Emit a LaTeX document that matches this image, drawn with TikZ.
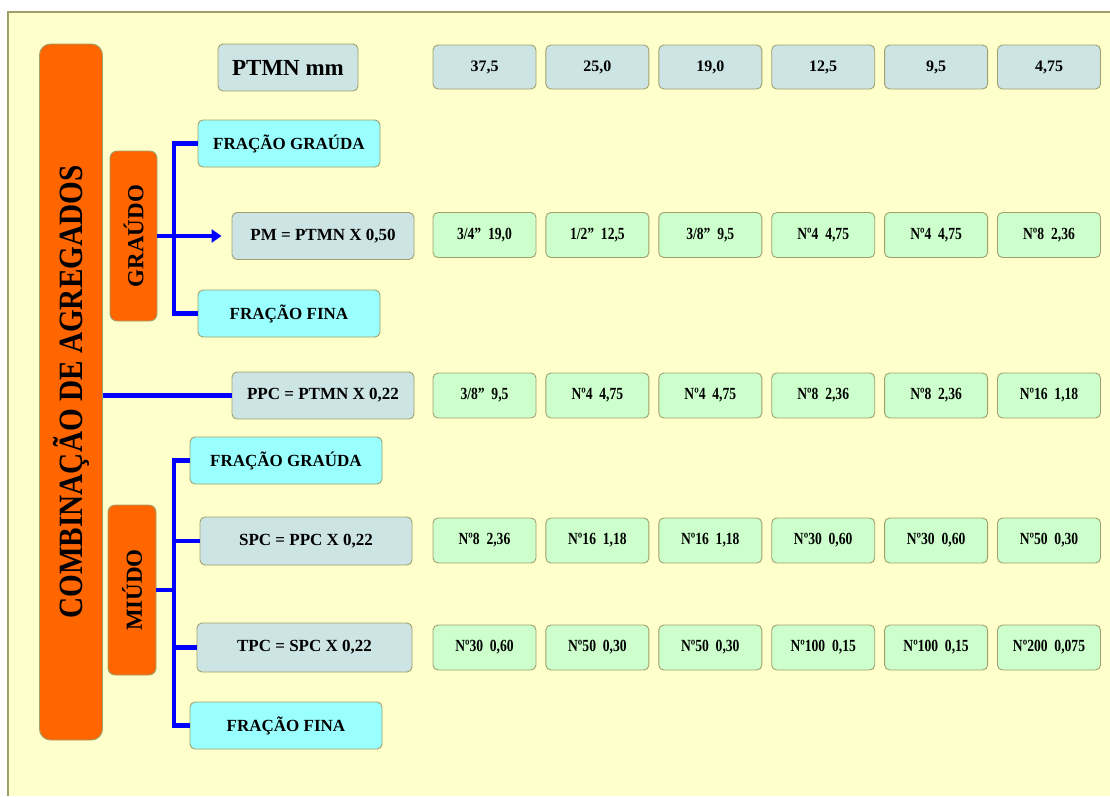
\documentclass[tikz,border=0pt]{standalone}
\usepackage{fontspec}
\setmainfont{Liberation Serif}
\newfontfamily\narrowfont{Liberation Serif}[FakeStretch=0.86]
\newfontfamily\sievefont{Liberation Serif}[FakeStretch=0.8]
\usetikzlibrary{arrows.meta, positioning, calc}

\definecolor{paper}{RGB}{255,255,204}
\definecolor{frameLine}{RGB}{160,160,110}
\definecolor{orangeFill}{RGB}{255,102,0}
\definecolor{grayCyan}{RGB}{204,228,228}
\definecolor{lightCyan}{RGB}{153,255,255}
\definecolor{lightGreen}{RGB}{204,255,204}
\definecolor{busBlue}{RGB}{0,0,255}

\begin{document}
\begin{tikzpicture}[
        x=1pt, y=-1pt,
        node distance=9pt,
        baseBox/.style={
            rectangle, rounded corners=5pt, draw=frameLine, line width=0.9pt,
            inner sep=0pt, align=center
        },
        groupBox/.style={
            baseBox, fill=orangeFill, rotate=90, rounded corners=7pt,
            font=\fontsize{23}{25}\selectfont\bfseries
        },
        formulaBox/.style={
            baseBox, fill=grayCyan, minimum height=47pt,
            font=\fontsize{17}{20}\selectfont\bfseries
        },
        fracBox/.style={
            baseBox, fill=lightCyan, minimum height=47pt,
            font=\fontsize{17}{20}\selectfont\bfseries
        },
        sizeBox/.style={
            baseBox, fill=grayCyan, minimum width=103pt, minimum height=44pt,
            font=\fontsize{16}{18}\selectfont\bfseries
        },
        sieveBox/.style={
            baseBox, fill=lightGreen, minimum width=103pt, minimum height=45pt,
            font=\sievefont\fontsize{17}{19}\selectfont\bfseries
        },
        bus/.style={
            draw=busBlue, line width=4.5pt
        }
    ]
        \useasboundingbox (0,0) rectangle (1110,796);
        \fill [white] (0,0) rectangle (1110,796);
        \fill [paper] (8,12) rectangle (1110,796);
        \draw [frameLine, line width=2pt] (8,796) -- (8,12) -- (1110,12);

        % Main group boxes
        \node (comb) [groupBox, minimum width=696pt, minimum height=63pt,
            rounded corners=11pt, font=\narrowfont\fontsize{34}{36}\selectfont\bfseries]
            at (71,392) {COMBINAÇÃO DE AGREGADOS};
        \node (graudo) [groupBox, minimum width=170pt, minimum height=47pt] at (133.5,236) {GRAÚDO};
        \node (miudo) [groupBox, minimum width=170pt, minimum height=48pt] at (132,590) {MIÚDO};

        % Header row
        \node (ptmn) [formulaBox, minimum width=140pt, font=\fontsize{23}{26}\selectfont\bfseries]
            at (288,67.5) {PTMN mm};
        \node (h1) [sizeBox] at (484.5,67) {37,5};
        \node (h2) [sizeBox, right=of h1] {25,0};
        \node (h3) [sizeBox, right=of h2] {19,0};
        \node (h4) [sizeBox, right=of h3] {12,5};
        \node (h5) [sizeBox, right=of h4] {9,5};
        \node (h6) [sizeBox, right=of h5] {4,75};

        % Graudo branch
        \node (fgA) [fracBox, minimum width=182pt] at (289,143.5) {FRAÇÃO GRAÚDA};
        \node (pm) [formulaBox, minimum width=182pt] at (323,236) {PM = PTMN X 0,50};
        \node (ffA) [fracBox, minimum width=182pt] at (289,313.5) {FRAÇÃO FINA};

        \node (pm1) [sieveBox] at (484.5,235) {3/4”~~19,0};
        \node (pm2) [sieveBox, right=of pm1] {1/2”~~12,5};
        \node (pm3) [sieveBox, right=of pm2] {3/8”~~9,5};
        \node (pm4) [sieveBox, right=of pm3] {Nº4~~4,75};
        \node (pm5) [sieveBox, right=of pm4] {Nº4~~4,75};
        \node (pm6) [sieveBox, right=of pm5] {Nº8~~2,36};

        % PPC row
        \node (ppc) [formulaBox, minimum width=182pt] at (323,395.5) {PPC = PTMN X 0,22};

        \node (pp1) [sieveBox] at (484.5,395.5) {3/8”~~9,5};
        \node (pp2) [sieveBox, right=of pp1] {Nº4~~4,75};
        \node (pp3) [sieveBox, right=of pp2] {Nº4~~4,75};
        \node (pp4) [sieveBox, right=of pp3] {Nº8~~2,36};
        \node (pp5) [sieveBox, right=of pp4] {Nº8~~2,36};
        \node (pp6) [sieveBox, right=of pp5] {Nº16~~1,18};

        % Miudo branch
        \node (fgB) [fracBox, minimum width=192pt] at (286,460.5) {FRAÇÃO GRAÚDA};
        \node (spc) [formulaBox, minimum width=212pt, minimum height=48pt] at (306,541) {SPC = PPC X 0,22};
        \node (tpc) [formulaBox, minimum width=215pt, minimum height=49pt] at (304.5,647.5) {TPC = SPC X 0,22};
        \node (ffB) [fracBox, minimum width=192pt] at (286,725.5) {FRAÇÃO FINA};

        \node (sp1) [sieveBox] at (484.5,540.5) {Nº8~~2,36};
        \node (sp2) [sieveBox, right=of sp1] {Nº16~~1,18};
        \node (sp3) [sieveBox, right=of sp2] {Nº16~~1,18};
        \node (sp4) [sieveBox, right=of sp3] {Nº30~~0,60};
        \node (sp5) [sieveBox, right=of sp4] {Nº30~~0,60};
        \node (sp6) [sieveBox, right=of sp5] {Nº50~~0,30};

        \node (tp1) [sieveBox] at (484.5,647.5) {Nº30~~0,60};
        \node (tp2) [sieveBox, right=of tp1] {Nº50~~0,30};
        \node (tp3) [sieveBox, right=of tp2] {Nº50~~0,30};
        \node (tp4) [sieveBox, right=of tp3] {Nº100~~0,15};
        \node (tp5) [sieveBox, right=of tp4] {Nº100~~0,15};
        \node (tp6) [sieveBox, right=of tp5] {Nº200~~0,075};

        % Connectors
        \coordinate (busA) at (174,236);
        \coordinate (busB) at (174,590);
        \draw [bus] (fgA.west) -| (busA) |- (ffA.west);
        \draw [bus, -{Triangle[length=10pt, width=13pt]}, shorten >=10pt] (graudo.south) -- (pm.west);
        \draw [bus] (comb.south |- ppc.west) -- (ppc.west);
        \draw [bus] (fgB.west) -| (busB) |- (ffB.west);
        \draw [bus] (spc.west) -- (busB |- spc.west);
        \draw [bus] (tpc.west) -- (busB |- tpc.west);
        \draw [bus, line width=3.5pt] (miudo.south) -- (busB);
    \end{tikzpicture}
\end{document}
